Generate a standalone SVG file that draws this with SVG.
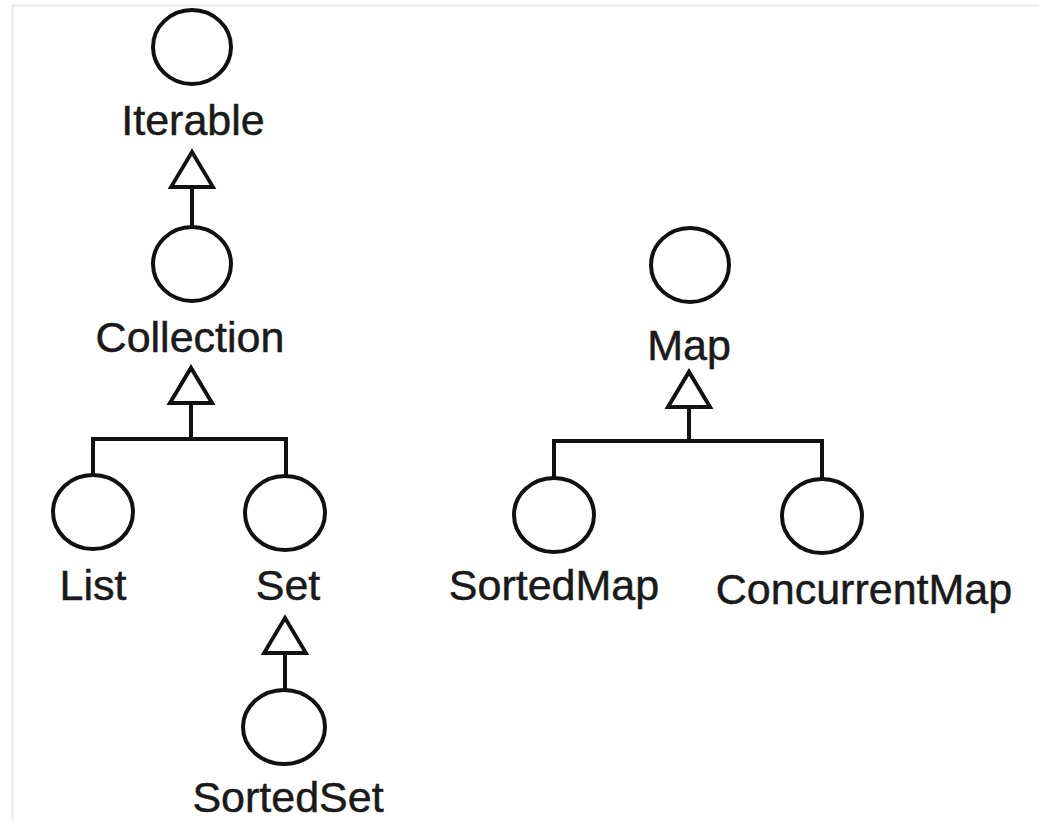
<svg xmlns="http://www.w3.org/2000/svg" width="1039" height="820" viewBox="0 0 1039 820">
  <style>
    .node ellipse { fill: #ffffff; stroke: #111111; stroke-width: 4; }
    .node text { font-family: "Liberation Sans", Arial, Helvetica, sans-serif; font-size: 43px; fill: #1a1a1a; stroke: #1a1a1a; stroke-width: 0.5; text-anchor: middle; }
    .edge { fill: none; stroke: #111111; stroke-width: 4; marker-end: url(#hollow); }
    .frame { stroke: #e8e8e8; stroke-width: 2; fill: none; }
  </style>
  <defs>
    <marker id="hollow" markerUnits="userSpaceOnUse" viewBox="-40 -25 44 50" markerWidth="44" markerHeight="50" refX="0" refY="0" orient="auto">
      <path d="M0,0 L-35,-21 L-35,21 Z" fill="#ffffff" stroke="#111111" stroke-width="3.8" stroke-linejoin="miter"/>
    </marker>
  </defs>
  <rect width="1039" height="820" fill="#ffffff"/>
  <path class="frame" d="M12.5,820 V5.5 H1039"/>

  <g id="connectors">
    <path class="edge" d="M192,227 V152"/>
    <path class="edge" d="M93,475 V439 H191 V368"/>
    <path class="edge" d="M286,476 V439 H191 V368"/>
    <path class="edge" d="M285,690 V618"/>
    <path class="edge" d="M554,478 V441 H689 V372"/>
    <path class="edge" d="M822,479 V441 H689 V372"/>
  </g>

  <g id="Iterable" class="node">
    <ellipse cx="192" cy="47" rx="39" ry="37"/>
    <text x="193" y="135">Iterable</text>
  </g>
  <g id="Collection" class="node">
    <ellipse cx="192" cy="264" rx="39" ry="37"/>
    <text x="190" y="352">Collection</text>
  </g>
  <g id="List" class="node">
    <ellipse cx="93" cy="512" rx="40" ry="37"/>
    <text x="93" y="600">List</text>
  </g>
  <g id="Set" class="node">
    <ellipse cx="285" cy="513" rx="40" ry="37"/>
    <text x="288" y="600">Set</text>
  </g>
  <g id="SortedSet" class="node">
    <ellipse cx="284" cy="727" rx="41" ry="37"/>
    <text x="288" y="812">SortedSet</text>
  </g>
  <g id="Map" class="node">
    <ellipse cx="690" cy="265" rx="39" ry="37"/>
    <text x="689" y="360">Map</text>
  </g>
  <g id="SortedMap" class="node">
    <ellipse cx="554" cy="515" rx="40" ry="37"/>
    <text x="554" y="600">SortedMap</text>
  </g>
  <g id="ConcurrentMap" class="node">
    <ellipse cx="822" cy="516" rx="40" ry="37"/>
    <text x="864" y="604">ConcurrentMap</text>
  </g>
</svg>
